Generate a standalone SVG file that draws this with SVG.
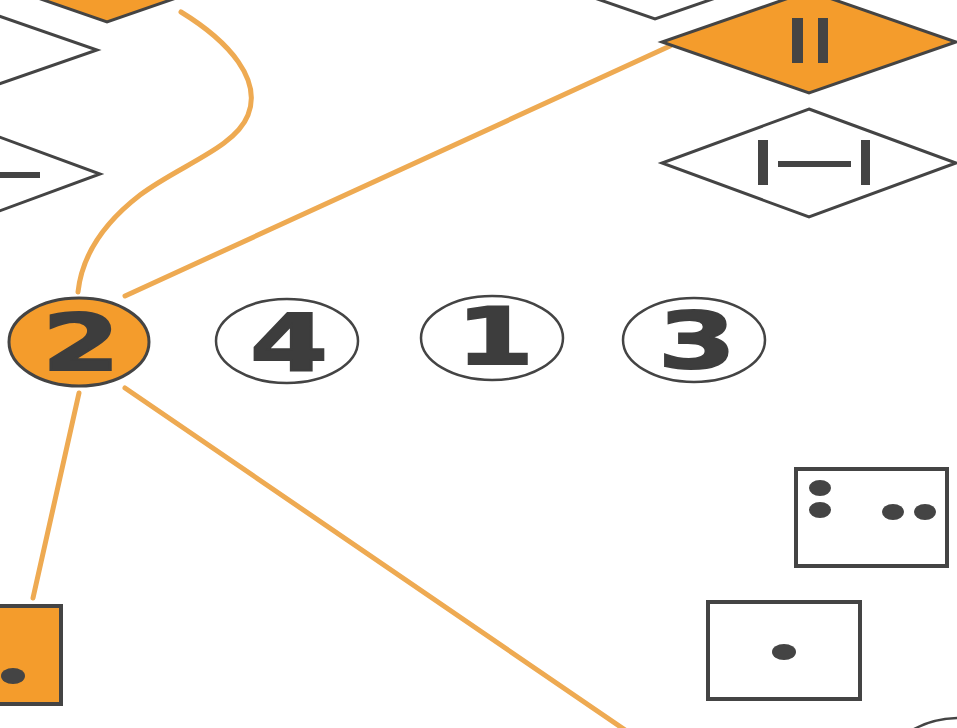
<svg xmlns="http://www.w3.org/2000/svg" width="957" height="728" viewBox="0 0 957 728">
<style>
.ln{fill:none;stroke:#eeaa52;stroke-width:5;stroke-linecap:round}
.wd{fill:#ffffff;stroke:#444;stroke-width:3;stroke-linejoin:miter}
.od{fill:#f49c2c;stroke:#444;stroke-width:3}
.wc{fill:#ffffff;stroke:#444;stroke-width:2.5}
.oc{fill:#f49c2c;stroke:#444;stroke-width:3}
.bx{fill:#ffffff;stroke:#444;stroke-width:4}
.ob{fill:#f49c2c;stroke:#444;stroke-width:4}
.bar{fill:#444}
.dot{fill:#444}
.dg{font-family:"DejaVu Sans",sans-serif;font-weight:bold;font-size:79px;fill:#3d3d3d;stroke:#3d3d3d;stroke-width:2;text-anchor:middle}
</style>
<rect width="957" height="728" fill="#ffffff"/>
<g id="connectors">
<path class="ln" d="M181,12 C230,42 262,80 248,115 C235,148 180,165 140,195 C105,222 82,255 78,292"/>
<path class="ln" d="M125,296 L670,46"/>
<path class="ln" d="M79,393 L33,598"/>
<path class="ln" d="M125,388 L628,732"/>
</g>
<g id="diamond-orange-topleft"><polygon class="od" points="107,-80 254,-29 107,22 -40,-29"/></g>
<g id="diamond-white-left1"><polygon class="wd" points="-50,-1 97,50 -50,101 -197,50"/></g>
<g id="diamond-white-left2"><polygon class="wd" points="-47,120 100,174 -47,228 -194,174"/><rect class="bar" x="-2" y="172" width="42" height="6"/></g>
<g id="diamond-white-top"><polygon class="wd" points="655,-83 802,-32 655,19 508,-32"/></g>
<g id="diamond-orange-II"><polygon class="od" points="809,-9 956,42 809,93 662,42"/><rect class="bar" x="792" y="18" width="11" height="45"/><rect class="bar" x="818" y="18" width="10" height="45"/></g>
<g id="diamond-white-bar"><polygon class="wd" points="809,109 956,163 809,217 662,163"/><rect class="bar" x="758" y="140" width="10" height="45"/><rect class="bar" x="861" y="140" width="9" height="45"/><rect class="bar" x="778" y="161" width="73" height="6"/></g>
<g id="circle-2"><ellipse class="oc" cx="79" cy="342" rx="70" ry="44"/><text class="dg" transform="translate(81,370) scale(1.42,1)">2</text></g>
<g id="circle-4"><ellipse class="wc" cx="287" cy="341" rx="71" ry="42"/><text class="dg" transform="translate(289,370) scale(1.42,1)">4</text></g>
<g id="circle-1"><ellipse class="wc" cx="492" cy="338" rx="71" ry="42"/><text class="dg" transform="translate(495,364) scale(1.42,1)">1</text></g>
<g id="circle-3"><ellipse class="wc" cx="694" cy="340" rx="71" ry="42"/><text class="dg" transform="translate(697,368) scale(1.42,1)">3</text></g>
<g id="circle-bottomright"><ellipse class="wc" cx="962" cy="760" rx="71" ry="42"/></g>
<g id="box-4dots"><rect class="bx" x="796" y="469" width="151" height="97"/><ellipse class="dot" cx="820" cy="488" rx="11" ry="8"/><ellipse class="dot" cx="820" cy="510" rx="11" ry="8"/><ellipse class="dot" cx="893" cy="512" rx="11" ry="8"/><ellipse class="dot" cx="925" cy="512" rx="11" ry="8"/></g>
<g id="box-1dot"><rect class="bx" x="708" y="602" width="152" height="97"/><ellipse class="dot" cx="784" cy="652" rx="12" ry="8"/></g>
<g id="box-orange"><rect class="ob" x="-10" y="606" width="71" height="98"/><ellipse class="dot" cx="13" cy="676" rx="12" ry="8"/></g>
</svg>
